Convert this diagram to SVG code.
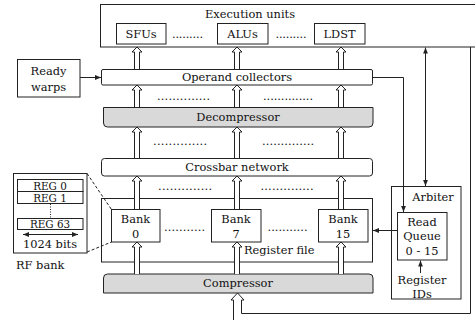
<svg xmlns="http://www.w3.org/2000/svg" width="475" height="320" viewBox="0 0 475 320">
<style>
.b{fill:#fff;stroke:#222;stroke-width:1}
.g{fill:#d9d9d9;stroke:#222;stroke-width:1}
.t{font-family:"DejaVu Serif","Liberation Serif",serif;font-size:11.4px;fill:#111;text-anchor:middle}
.s{font-size:10.4px}
.l{text-anchor:start}
.ha{fill:#fff;stroke:#222;stroke-width:1}
.c{fill:none;stroke:#222;stroke-width:1}
.d{stroke-dasharray:3 2}
.dt{stroke-dasharray:1 1.5}
</style>
<defs>
<marker id="ah" viewBox="0 0 6 6" refX="6" refY="3" markerWidth="6" markerHeight="6" markerUnits="userSpaceOnUse" orient="auto-start-reverse">
<path d="M0,0.6 L6,3 L0,5.4 z" fill="#222"/>
</marker>
</defs>
<rect width="475" height="320" fill="#fff"/>

<g id="exec">
<rect class="b" x="100.5" y="4.5" width="380" height="42.5"/>
<text class="t" x="250" y="18">Execution units</text>
</g>
<g id="sfus"><rect class="b" x="116.5" y="23.5" width="49.5" height="20.5"/><text class="t" x="141" y="38">SFUs</text></g>
<g id="alus"><rect class="b" x="217.5" y="23.5" width="50.5" height="20.5"/><text class="t" x="242.5" y="38">ALUs</text></g>
<g id="ldst"><rect class="b" x="314.5" y="23.5" width="50.5" height="20.5"/><text class="t" x="339.5" y="38">LDST</text></g>
<g id="exec-dots">
<text class="t" x="187.5" y="38" textLength="31" lengthAdjust="spacing">.........</text>
<text class="t" x="291" y="38" textLength="31" lengthAdjust="spacing">.........</text>
</g>

<g id="ready">
<rect class="b" x="17.5" y="59.5" width="62.5" height="37.5"/>
<text class="t" x="48.5" y="75">Ready</text>
<text class="t" x="48.5" y="91">warps</text>
</g>

<g id="operand">
<rect class="b" x="101.5" y="69.5" width="271" height="15.5" rx="1.5"/>
<text class="t" x="237" y="81">Operand collectors</text>
</g>

<g id="decompressor">
<path class="g" d="M103.5,107.5 H373 V123 Q373,127 369,127 H107.5 Q103.5,127 103.5,123 Z"/>
<text class="t" x="238" y="121">Decompressor</text>
</g>

<g id="crossbar">
<rect class="b" x="101.5" y="158.5" width="271" height="17.5" rx="3"/>
<text class="t" x="237" y="171">Crossbar network</text>
</g>

<g id="regfile">
<rect class="b" x="101.5" y="198.5" width="271" height="63.5"/>
<text class="t l" x="244" y="254">Register file</text>
</g>

<g id="bank0"><rect class="b" x="111.5" y="209.5" width="48.5" height="32.5"/><text class="t" x="135.5" y="223">Bank</text><text class="t" x="135.5" y="238">0</text></g>
<g id="bank7"><rect class="b" x="211.5" y="209.5" width="49.5" height="32.5"/><text class="t" x="236" y="223">Bank</text><text class="t" x="236" y="238">7</text></g>
<g id="bank15"><rect class="b" x="318.5" y="209.5" width="49.5" height="32.5"/><text class="t" x="343" y="223">Bank</text><text class="t" x="343" y="238">15</text></g>

<g id="compressor">
<path class="g" d="M103.5,293 V278 Q103.5,274 107.5,274 H369 Q373,274 373,278 V293 Z"/>
<text class="t" x="238" y="287">Compressor</text>
</g>

<g id="arbiter">
<rect class="b" x="391.5" y="186.5" width="69.5" height="112.5"/>
<text class="t" x="433" y="201">Arbiter</text>
<text class="t" x="422" y="284">Register</text>
<text class="t" x="422" y="298">IDs</text>
</g>
<g id="readqueue">
<rect class="b" x="397.5" y="212.5" width="49.5" height="47.5"/>
<text class="t" x="422" y="226">Read</text>
<text class="t" x="422" y="240">Queue</text>
<text class="t" x="422" y="255">0 - 15</text>
</g>

<g id="rfbank">
<rect class="b" x="13.5" y="173.5" width="73.5" height="79.5"/>
<rect class="b" x="17.5" y="179.5" width="65.5" height="12"/>
<text class="t s" x="50" y="189.5">REG 0</text>
<rect class="b" x="17.5" y="191.5" width="65.5" height="12"/>
<text class="t s" x="50" y="201.5">REG 1</text>
<line class="c dt" x1="50.5" y1="204" x2="50.5" y2="218"/>
<rect class="b" x="17.5" y="218.5" width="65.5" height="11"/>
<text class="t s" x="50" y="228">REG 63</text>
<line class="c" x1="23" y1="234.5" x2="78" y2="234.5" marker-start="url(#ah)" marker-end="url(#ah)"/>
<text class="t" x="50" y="248">1024 bits</text>
<text class="t l" x="16" y="269">RF bank</text>
</g>

<g id="dots">
<text class="t" x="183.5" y="100" textLength="53" lengthAdjust="spacing">..............</text>
<text class="t" x="288" y="100" textLength="50" lengthAdjust="spacing">..............</text>
<text class="t" x="180" y="144.5" textLength="54" lengthAdjust="spacing">..............</text>
<text class="t" x="288" y="144.5" textLength="52" lengthAdjust="spacing">..............</text>
<text class="t" x="185" y="190" textLength="54" lengthAdjust="spacing">..............</text>
<text class="t" x="287" y="190" textLength="53" lengthAdjust="spacing">..............</text>
<text class="t" x="184.5" y="231" textLength="41" lengthAdjust="spacing">...........</text>
<text class="t" x="287.5" y="231" textLength="40" lengthAdjust="spacing">...........</text>
</g>

<g id="connectors">
<path class="ha" d="M134.5,69 V52 H132 L137,47 L142,52 H139.5 V69"/>
<path class="ha" d="M134.5,107 V90 H132 L137,85 L142,90 H139.5 V107"/>
<path class="ha" d="M134.5,158 V132 H132 L137,127 L142,132 H139.5 V158"/>
<path class="ha" d="M134.5,209 V181 H132 L137,176 L142,181 H139.5 V209"/>
<path class="ha" d="M134.5,274 V247 H132 L137,242 L142,247 H139.5 V274"/>
<path class="ha" d="M234.5,69 V52 H232 L237,47 L242,52 H239.5 V69"/>
<path class="ha" d="M234.5,107 V90 H232 L237,85 L242,90 H239.5 V107"/>
<path class="ha" d="M234.5,158 V132 H232 L237,127 L242,132 H239.5 V158"/>
<path class="ha" d="M234.5,209 V181 H232 L237,176 L242,181 H239.5 V209"/>
<path class="ha" d="M234.5,274 V247 H232 L237,242 L242,247 H239.5 V274"/>
<path class="ha" d="M338.5,69 V52 H336 L341,47 L346,52 H343.5 V69"/>
<path class="ha" d="M338.5,107 V90 H336 L341,85 L346,90 H343.5 V107"/>
<path class="ha" d="M338.5,158 V132 H336 L341,127 L346,132 H343.5 V158"/>
<path class="ha" d="M338.5,209 V181 H336 L341,176 L346,181 H343.5 V209"/>
<path class="ha" d="M338.5,274 V247 H336 L341,242 L346,247 H343.5 V274"/>
<path class="c" d="M233.5,320 V300 H231 L237.5,293 L244,300 H241.5 V313.5 H470.5 V47"/>
<line class="c" x1="80" y1="77.5" x2="101" y2="77.5" marker-end="url(#ah)"/>
<path class="c" d="M373,77.5 H403.5 V212" marker-end="url(#ah)"/>
<line class="c" x1="425.5" y1="47.5" x2="425.5" y2="186" marker-start="url(#ah)" marker-end="url(#ah)"/>
<line class="c" x1="397" y1="230.5" x2="373" y2="230.5" marker-end="url(#ah)"/>
<line class="c" x1="420.5" y1="273" x2="420.5" y2="260.5" marker-end="url(#ah)"/>
<line class="c d" x1="87" y1="173.5" x2="111.5" y2="209.5"/>
<line class="c d" x1="87" y1="252" x2="111.5" y2="242"/>
</g>
</svg>
